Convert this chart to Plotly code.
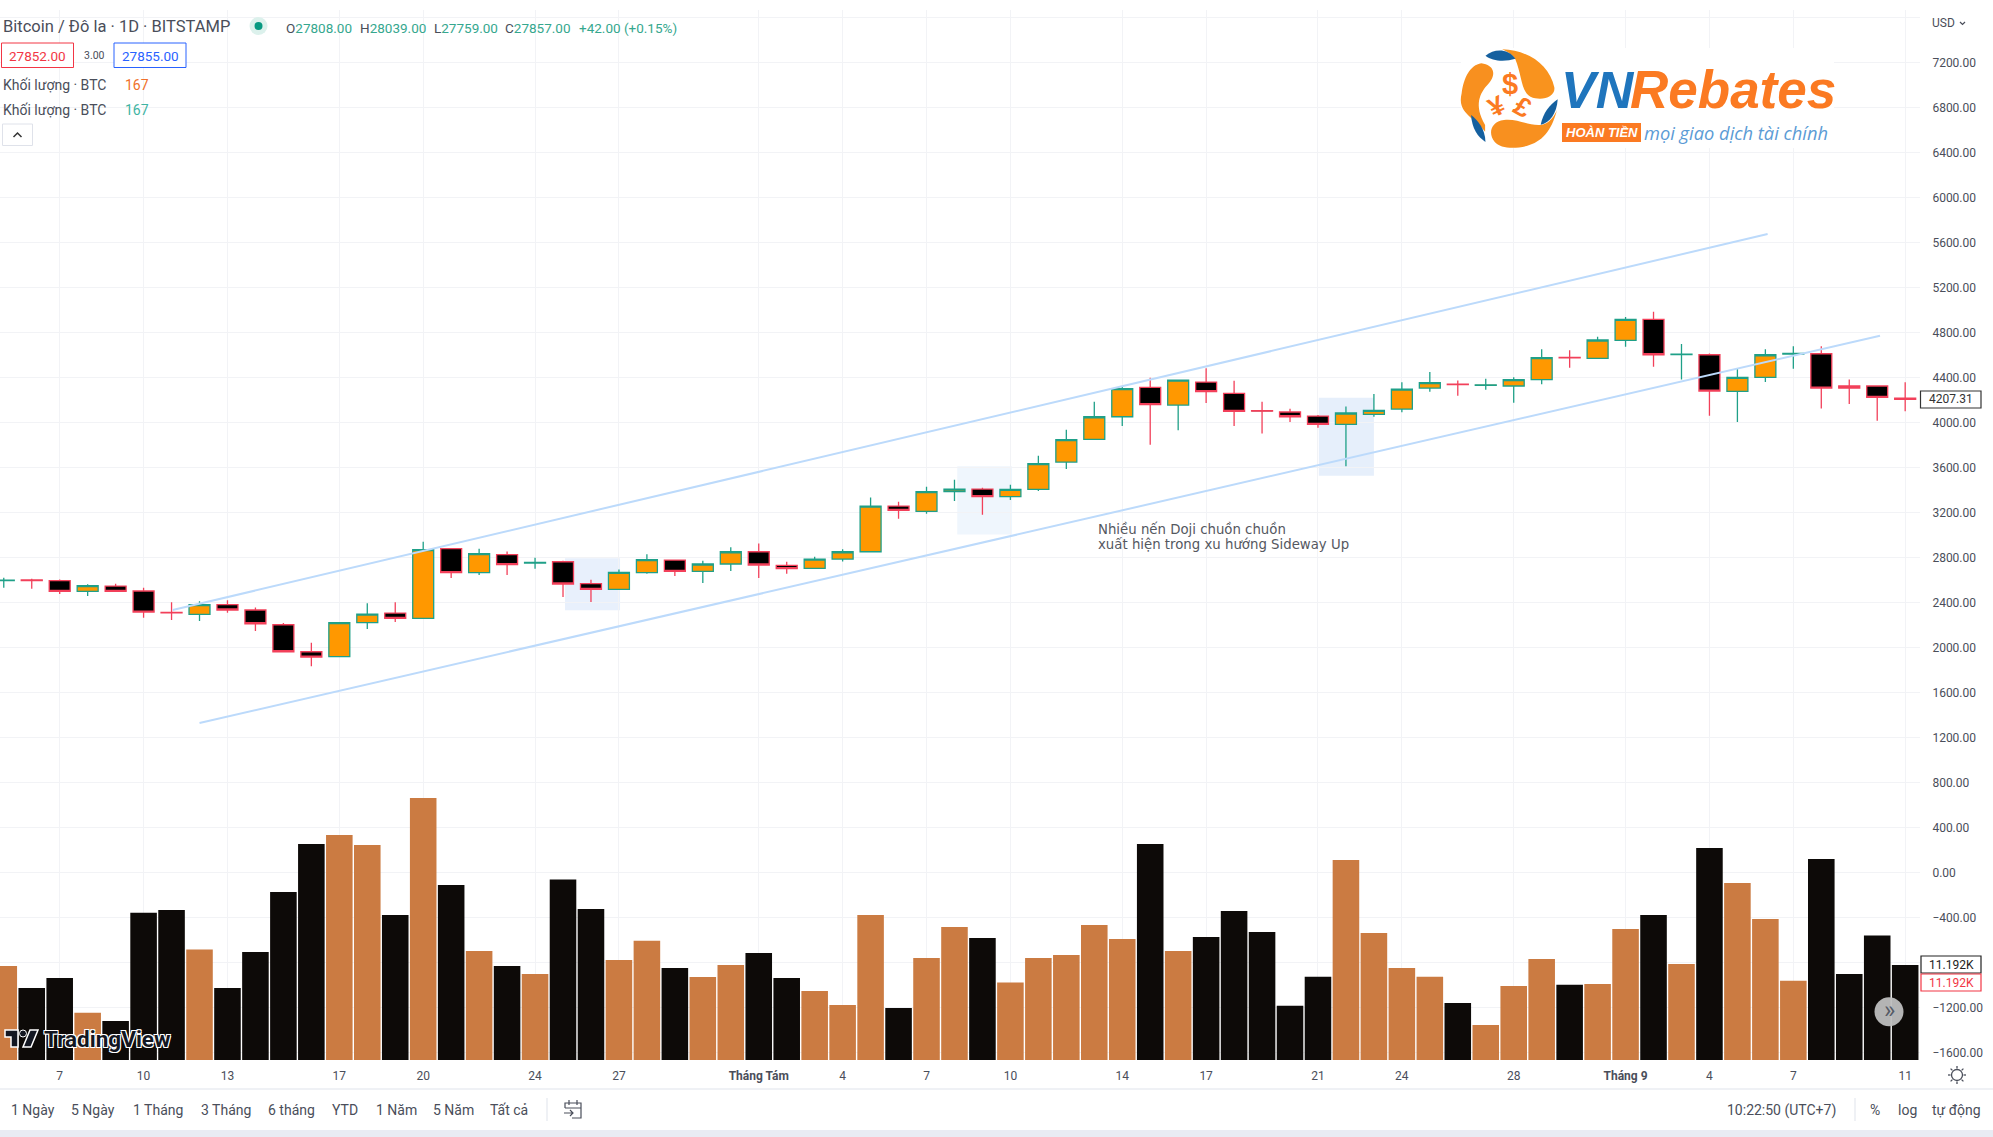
import plotly.graph_objects as go

# days counted from 7 July, the first labelled tick
day = list(range(-2, 67))
open_ = [2597, 2602, 2596, 2501, 2548, 2504, 2313, 2296, 2382, 2335, 2204, 1964, 1920, 2222, 2308, 2261, 2880, 2667, 2827, 2753,
         2764, 2569, 2519, 2667, 2779, 2679, 2744, 2853, 2732, 2705, 2788, 2853, 3259, 3212, 3387, 3410, 3342, 3407, 3650, 3852,
         4053, 4314, 4157, 4361, 4261, 4106, 4095, 4059, 3985, 4074, 4121, 4308, 4343, 4333, 4326, 4382, 4580, 4572, 4732, 4919,
         4605, 4604, 4279, 4403, 4610, 4613, 4326, 4326, 4219]
high = [2622, 2613, 2607, 2563, 2569, 2533, 2403, 2412, 2421, 2358, 2219, 2044, 2226, 2394, 2403, 2942, 2880, 2880, 2856, 2800,
        2773, 2604, 2696, 2830, 2779, 2773, 2892, 2927, 2764, 2809, 2874, 3336, 3298, 3431, 3493, 3422, 3449, 3707, 3938, 4187,
        4326, 4400, 4379, 4483, 4373, 4187, 4124, 4068, 4145, 4255, 4359, 4450, 4376, 4391, 4403, 4652, 4643, 4764, 4939, 4987,
        4699, 4616, 4480, 4652, 4679, 4679, 4385, 4326, 4359]
low = [2533, 2524, 2477, 2459, 2498, 2267, 2246, 2237, 2311, 2148, 1964, 1834, 1918, 2166, 2228, 2258, 2619, 2646, 2646, 2702,
       2450, 2406, 2517, 2658, 2637, 2575, 2681, 2619, 2658, 2702, 2767, 2850, 3147, 3191, 3304, 3182, 3313, 3393, 3588, 3850,
       3970, 3804, 3932, 4175, 3970, 3905, 4006, 3956, 3612, 4053, 4092, 4276, 4240, 4293, 4178, 4341, 4489, 4570, 4676, 4498,
       4385, 4062, 4006, 4361, 4480, 4127, 4166, 4018, 4101]
close = [2600, 2596, 2501, 2551, 2501, 2317, 2309, 2382, 2335, 2213, 1964, 1917, 2222, 2299, 2261, 2871, 2667, 2836, 2738, 2758,
         2566, 2519, 2670, 2782, 2679, 2744, 2853, 2735, 2702, 2788, 2853, 3259, 3221, 3387, 3410, 3342, 3407, 3636, 3849, 4053,
         4302, 4160, 4379, 4276, 4101, 4102, 4053, 3985, 4086, 4110, 4299, 4356, 4339, 4337, 4382, 4578, 4576, 4735, 4919, 4604,
         4609, 4281, 4403, 4604, 4616, 4308, 4308, 4225, 4207.31]
volume = [11.07, 8.48, 9.66, 5.57, 4.59, 17.35, 17.67, 13.02, 8.48, 12.72, 19.79, 25.44, 26.50, 25.32, 17.08, 30.86, 20.61, 12.84,
          11.07, 10.13, 21.25, 17.79, 11.78, 14.06, 10.84, 9.78, 11.19, 12.60, 9.66, 8.13, 6.48, 17.08, 6.12, 12.01, 15.67, 14.37,
          9.12, 12.01, 12.37, 15.90, 14.25, 25.44, 12.84, 14.49, 17.55, 15.08, 6.40, 9.81, 23.56, 14.96, 10.84, 9.81, 6.71, 4.12,
          8.72, 11.90, 8.87, 8.95, 15.43, 17.08, 11.31, 24.97, 20.85, 16.61, 9.34, 23.67, 10.13, 14.66, 11.19]

price_ticks = list(range(-1600, 7601, 400))
# 7600 sits behind the currency label and -800 behind the volume labels
price_labels = [f"{v:.2f}".replace("-", "−") if v not in (7600, -800) else "" for v in price_ticks]
date_ticks = [0, 3, 6, 10, 13, 17, 20, 25, 28, 31, 34, 38, 41, 45, 48, 52, 56, 59, 62, 66]
date_labels = ["7", "10", "13", "17", "20", "24", "27", "<b>Tháng Tám</b>", "4", "7", "10", "14", "17", "21", "24", "28",
               "<b>Tháng 9</b>", "4", "7", "11"]
upper_x, upper_y = [4.04, 61.08], [2335, 5677]
lower_x, lower_y = [5.0, 65.1], [1331, 4773]

TEXT = "#4a4e5a"
BLUE_LINE = "#bcdafb"
ORANGE = "#fb7a22"
FONT = "Roboto"


def X(x):
    return x / 1920


def Y(y):
    return (1060 - y) / 1050


def to_path(s, fx=X, fy=Y):
    # turns "M 1 2 L 3 4" written in pixels into a paper path
    out, is_x = [], True
    for tok in s.split():
        if tok.isalpha():
            out.append(tok)
        else:
            out.append(str(fx(float(tok))) if is_x else str(fy(float(tok))))
            is_x = not is_x
    return " ".join(out)


def logo_path(s):
    return to_path(s, lambda v: X(1400 + v / 2.644), lambda v: Y(v / 3))


annotations = []
shapes = []


def note(text, x, y, size=13, color=TEXT, anchor="left", family=FONT, **kw):
    annotations.append(dict(text=text, x=X(x), y=Y(y), xref="paper", yref="paper", xanchor=anchor, yanchor="middle",
                            showarrow=False, font=dict(size=size, color=color, family=family, **kw)))


def rect(x0, y0, x1, y1, fill="rgba(0,0,0,0)", line=None, width=1):
    shapes.append(dict(type="rect", xref="paper", yref="paper", x0=X(x0), x1=X(x1), y0=Y(y0), y1=Y(y1),
                       fillcolor=fill, line=dict(color=line or fill, width=width if line else 0)))


def outline(s, color=TEXT, width=1.3, fill=None):
    shapes.append(dict(type="path", xref="paper", yref="paper", path=to_path(s),
                       fillcolor=fill, line=dict(color=color, width=width)))


def circle(cx, cy, r, fill="rgba(0,0,0,0)", line=None, width=1):
    shapes.append(dict(type="circle", xref="paper", yref="paper", x0=X(cx - r), x1=X(cx + r), y0=Y(cy - r), y1=Y(cy + r),
                       fillcolor=fill, line=dict(color=line or fill, width=width if line else 0)))


# highlight boxes behind the doji candles
for x0, x1, y0, y1, col in [(18.07, 20.04, 2332, 2794, "#e8f0fc"), (32.1, 34.06, 3007, 3612, "#eff6fd"),
                            (45.03, 47.0, 3529, 4222, "#e6effb")]:
    shapes.append(dict(type="rect", xref="x", yref="y", x0=x0, x1=x1, y0=y0, y1=y1, fillcolor=col, line_width=0, layer="below"))

fig = go.Figure()
bar_colors = ["#cb7b42" if c >= o else "#0d0a08" for o, c in zip(open_, close)]
fig.add_trace(go.Bar(x=day, y=volume, yaxis="y2", width=0.95, marker=dict(color=bar_colors, line_width=0)))
fig.add_trace(go.Scatter(x=upper_x, y=upper_y, mode="lines", line=dict(color=BLUE_LINE, width=2)))
fig.add_trace(go.Scatter(x=lower_x, y=lower_y, mode="lines", line=dict(color=BLUE_LINE, width=2)))
fig.add_trace(go.Candlestick(
    x=day, open=open_, high=high, low=low, close=close, whiskerwidth=0,
    increasing=dict(fillcolor="#ff9800", line=dict(color="#1fa088", width=1.3)),
    decreasing=dict(fillcolor="#000000", line=dict(color="#f2405a", width=1.3)),
))

# header block
note("Bitcoin / Đô la · 1D · BITSTAMP", 1, 26, size=16.5)
circle(258.5, 26, 9, fill="#dcf1ec")
circle(258.5, 26, 4, fill="#089981")
for label, value, lx in [("O", "27808.00", 284), ("H", "28039.00", 358), ("L", "27759.00", 432), ("C", "27857.00", 503)]:
    note(f"<span style='color:{TEXT}'>{label}</span>{value}", lx, 28, size=13.5, color="#35a78e")
note("+42.00 (+0.15%)", 577, 28, size=13.5, color="#35a78e")
rect(1.5, 43, 73.5, 67.5, fill="#ffffff", line="#f23645")
note("27852.00", 37.5, 55.5, size=13.5, color="#f23645", anchor="center")
note("3.00", 94, 55.5, size=10.5, anchor="center")
rect(114, 43, 186, 67.5, fill="#ffffff", line="#2962ff")
note("27855.00", 150, 55.5, size=13.5, color="#2962ff", anchor="center")
note("Khối lượng · BTC", 1, 85, size=14)
note("167", 123, 85, size=14, color="#f0702a")
note("Khối lượng · BTC", 1, 110, size=14)
note("167", 123, 110, size=14, color="#3fb4a3")
rect(2.5, 124, 32.5, 145.5, fill="#ffffff", line="#dfe2ea")
outline("M 13.5 137 L 17.5 133 L 21.5 137", color="#333333", width=1.5)

# VNRebates logo
rect(1461, 48, 1834, 148, fill="#ffffff")
for d, col in [("M 270 148 C 340 150 395 195 408 262 C 412 290 375 305 345 290 C 320 275 322 225 305 178 C 298 165 285 155 270 148 Z", "#f9931e"),
               ("M 215 190 C 250 195 255 225 235 250 C 210 280 195 315 225 375 L 225 395 C 195 350 150 340 163 280 C 168 235 185 195 215 190 Z", "#f8901f"),
               ("M 372 375 C 340 378 310 355 275 360 C 240 365 232 400 250 425 C 265 445 300 448 335 438 C 375 425 400 395 415 330 C 410 345 395 372 372 375 Z", "#f8901f"),
               ("M 226 167 C 250 145 285 145 305 176 C 280 185 245 185 226 167 Z", "#15609f"),
               ("M 188 345 C 205 360 225 385 226 426 C 205 410 190 385 188 345 Z", "#15609f"),
               ("M 417 298 C 395 315 378 340 372 374 C 395 370 415 340 417 298 Z", "#15609f")]:
    shapes.append(dict(type="path", xref="paper", yref="paper", path=logo_path(d), fillcolor=col, line_width=0))
note("$", 1509.5, 84, size=29, color=ORANGE, anchor="center", family="Liberation Sans", weight="bold")
annotations.append(dict(text="<b>¥</b>", x=X(1496), y=Y(107), xref="paper", yref="paper", showarrow=False, textangle=-25,
                        xanchor="center", yanchor="middle", font=dict(size=27, color=ORANGE, family="Liberation Sans")))
annotations.append(dict(text="<b>£</b>", x=X(1522), y=Y(107), xref="paper", yref="paper", showarrow=False, textangle=30,
                        xanchor="center", yanchor="middle", font=dict(size=27, color=ORANGE, family="Liberation Sans")))
note("VN", 1559, 90, size=52, color="#1f75bd", family="Liberation Sans", weight="bold", style="italic")
note("Rebates", 1628, 90, size=53, color=ORANGE, family="Liberation Sans", weight="bold", style="italic")
shapes.append(dict(type="rect", xref="paper", yref="paper", x0=X(1562), x1=X(1641), y0=Y(123), y1=Y(142), fillcolor=ORANGE, line_width=0))
note("HOÀN TIỀN", 1601.5, 133, size=13, color="#ffffff", anchor="center", family="Liberation Sans", weight="bold", style="italic")
note("mọi giao dịch tài chính", 1642, 132, size=18.3, color="#5b9bd5", family="Open Sans", style="italic")

# text on the chart
note("Nhiều nến Doji chuồn chuồn", 1095.5, 529, size=13.3, color="#55585f", family="DejaVu Sans")
note("xuất hiện trong xu hướng Sideway Up", 1095.5, 544, size=13.3, color="#55585f", family="DejaVu Sans")

# TradingView mark
for d in ["M 5 1030 L 18 1030 L 18 1047 L 11 1047 L 11 1037 L 5 1037 Z", "M 30 1030 L 38 1030 L 31 1047 L 23 1047 Z"]:
    outline(d, color="#ffffff", width=1.5, fill="#131722")
circle(23, 1033.5, 3.5, fill="#131722", line="#ffffff", width=1)
note("TradingView", 42, 1039, size=22.5, color="#131722", weight="bold",
     shadow="1px 1px 0 #fff, -1px -1px 0 #fff, 1px -1px 0 #fff, -1px 1px 0 #fff")
circle(1889, 1011.7, 14.5, fill="rgba(190,190,190,0.95)")
note("»", 1889, 1010, size=24, color="#555a66", anchor="center")

# price scale extras
note("USD", 1930, 23, size=12)
outline("M 1960 22 L 1962.5 24.5 L 1965 22", color=TEXT, width=1.2)
rect(1920.5, 391, 1981, 408, fill="#ffffff", line="#333333", width=1.2)
note("4207.31", 1950.5, 399.5, size=12, color="#333333", anchor="center")
rect(1921, 956, 1981, 973, fill="#ffffff", line="#222222", width=1.2)
note("11.192K", 1951, 964.5, size=12, color="#222222", anchor="center")
rect(1921, 974, 1981, 991, fill="#ffffff", line="#f23645", width=1.2)
note("11.192K", 1951, 982.5, size=12, color="#f23645", anchor="center")

# gear icon
circle(1957, 1075, 5.5, line=TEXT, width=1.3)
for x0, y0, x1, y1 in [(1957, 1066, 1957, 1068.5), (1957, 1081.5, 1957, 1084), (1948, 1075, 1950.5, 1075), (1963.5, 1075, 1966, 1075),
                       (1950.6, 1068.6, 1952.4, 1070.4), (1961.6, 1079.6, 1963.4, 1081.4), (1950.6, 1081.4, 1952.4, 1079.6), (1961.6, 1070.4, 1963.4, 1068.6)]:
    outline(f"M {x0} {y0} L {x1} {y1}", width=1.3)

# bottom toolbar
rect(0, 1088.5, 1993, 1089.5, fill="#e0e3eb")
rect(0, 1130, 1993, 1137, fill="#e9ebf3")
rect(546.5, 1098, 547.5, 1121, fill="#e0e3eb")
rect(1854.5, 1098, 1855.5, 1121, fill="#e0e3eb")
for label, cx in [("1 Ngày", 33), ("5 Ngày", 93), ("1 Tháng", 158), ("3 Tháng", 225.5), ("6 tháng", 291), ("YTD", 345),
                  ("1 Năm", 396), ("5 Năm", 453), ("Tất cả", 509)]:
    note(label, cx, 1110, size=14, anchor="center")
outline("M 565 1108 L 565 1103 L 581 1103 L 581 1118 L 572 1118", width=1.2)
outline("M 565 1108 L 581 1108 M 569 1100 L 569 1105 M 577 1100 L 577 1105 M 564 1113 L 573 1113 M 570 1110 L 573 1113 L 570 1116", width=1.2)
note("10:22:50 (UTC+7)", 1838, 1110, size=14, anchor="right")
note("%", 1875, 1110, size=14, anchor="center")
note("log", 1907, 1110, size=14, anchor="center")
note("tự động", 1956, 1110, size=14, anchor="center")

fig.update_layout(
    width=1993, height=1137,
    margin=dict(l=0, r=73, t=10, b=77, autoexpand=False),
    paper_bgcolor="#ffffff", plot_bgcolor="#ffffff",
    showlegend=False, bargap=0.05, boxgap=0.25, boxgroupgap=0,
    font=dict(family=FONT, size=12, color=TEXT),
    shapes=shapes, annotations=annotations,
    xaxis=dict(range=[-2.135, 66.53], tickmode="array", tickvals=date_ticks, ticktext=date_labels, showgrid=True,
               gridcolor="#f2f3f6", zeroline=False, showline=False, ticks="outside", ticklen=5, tickcolor="rgba(0,0,0,0)",
               rangeslider=dict(visible=False)),
    yaxis=dict(range=[-1664.9, 7668.4], side="right", tickmode="array", tickvals=price_ticks, ticktext=price_labels, showgrid=True,
               gridcolor="#f2f3f6", zeroline=False, showline=False, ticks="outside", ticklen=9, tickcolor="rgba(0,0,0,0)"),
    yaxis2=dict(range=[0, 123.67], overlaying="y", side="right", visible=False, showgrid=False),
)

fig.write_html("out.html", config=dict(displayModeBar=False), post_script="document.body.style.margin='0';")
